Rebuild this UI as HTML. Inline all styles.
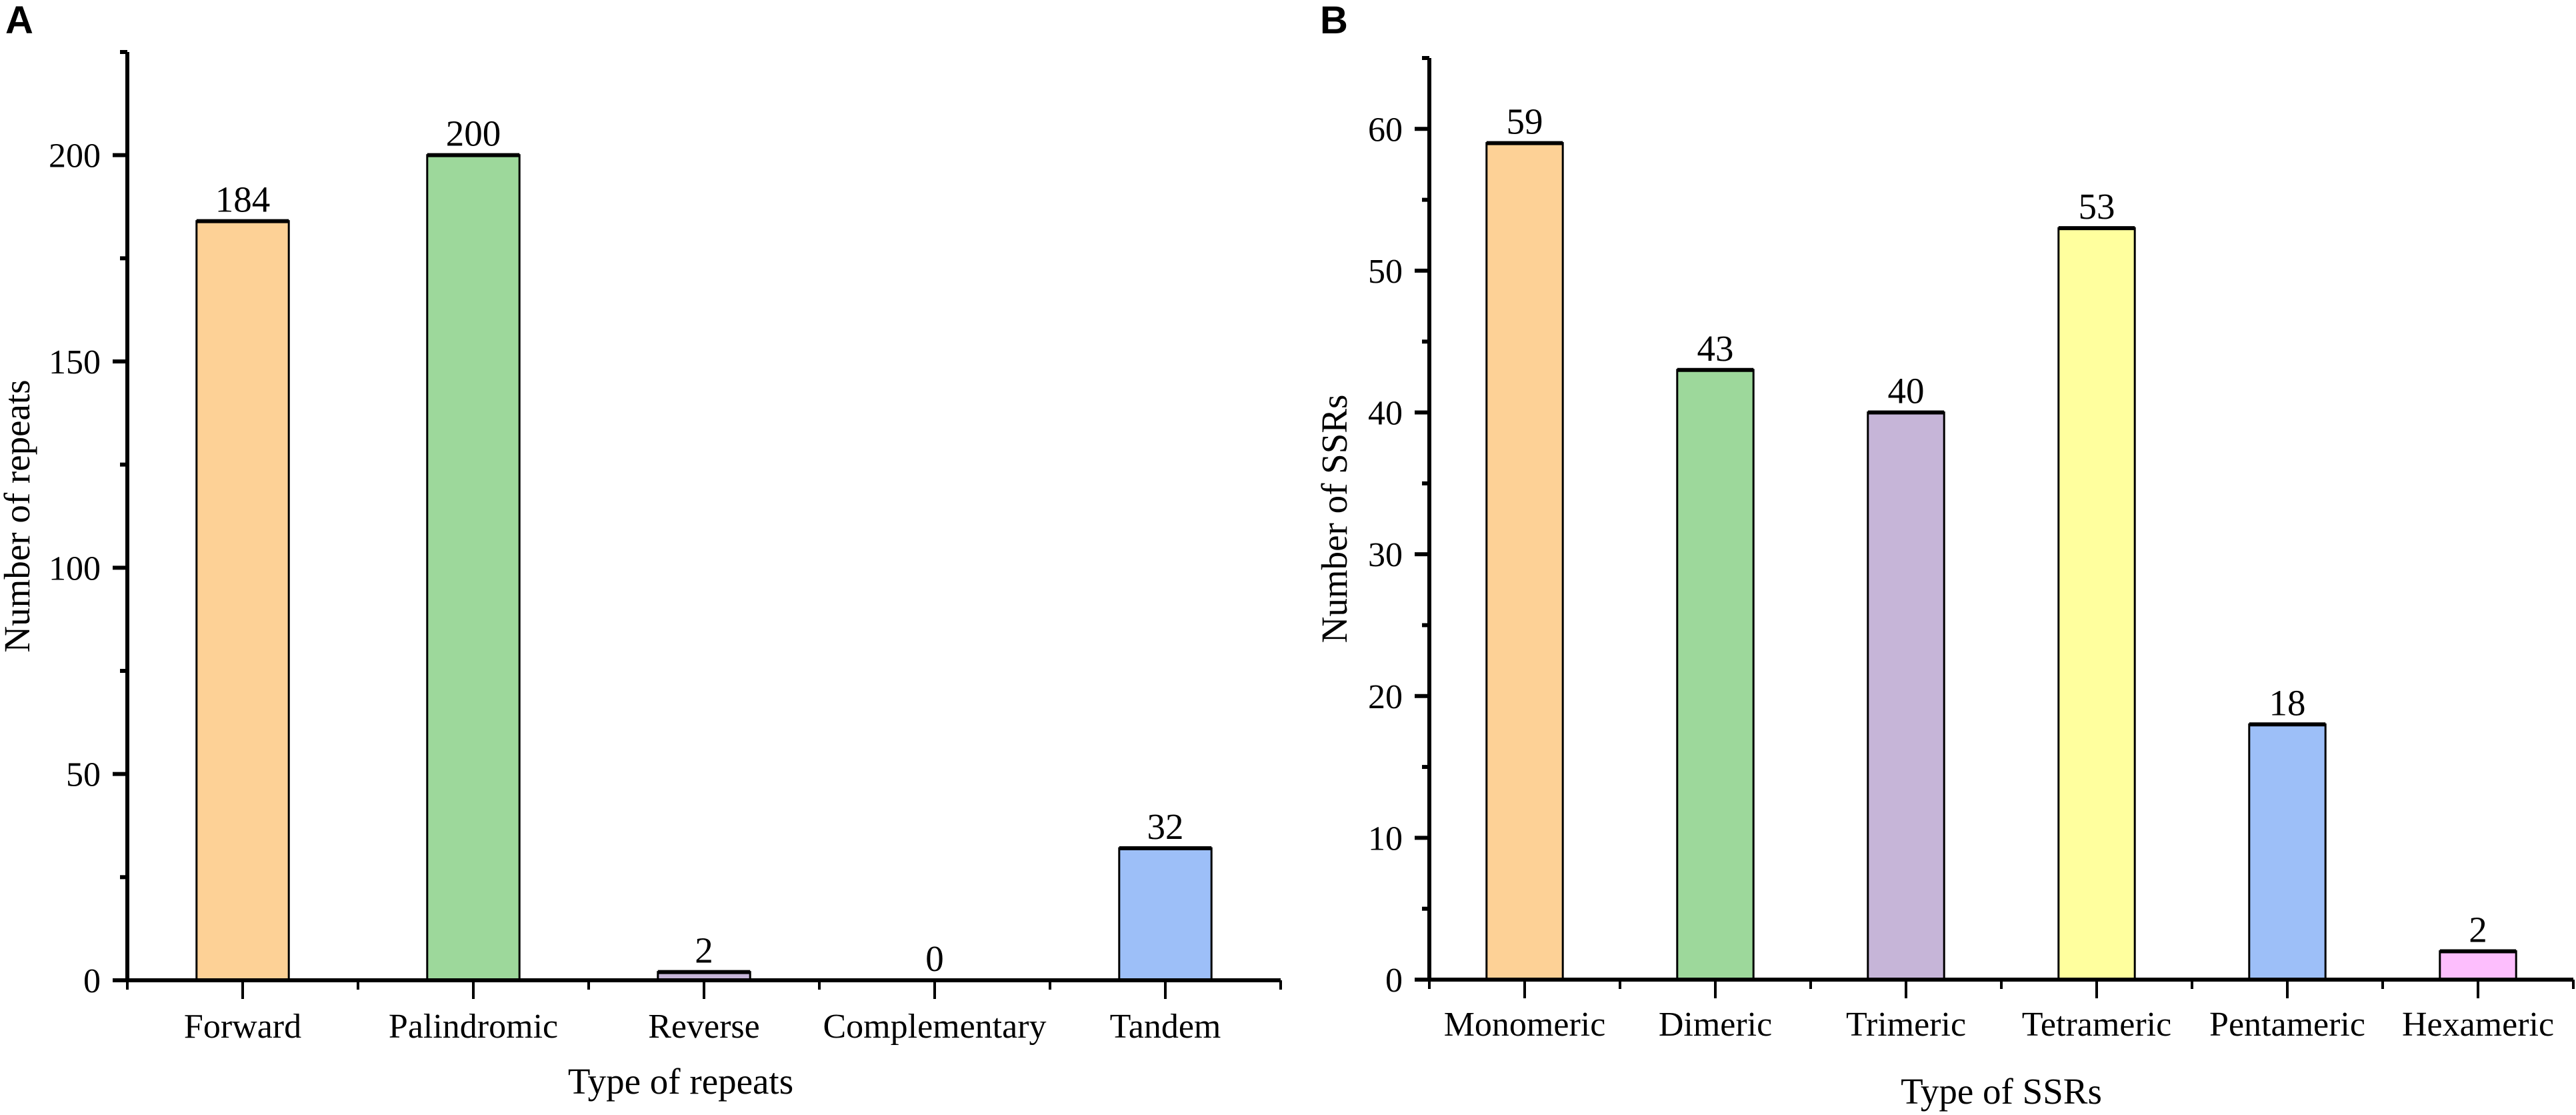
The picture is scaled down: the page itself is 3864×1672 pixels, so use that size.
<!DOCTYPE html>
<html><head><meta charset="utf-8"><style>
html,body{margin:0;padding:0;background:#fff}
svg{display:block}
text{font-family:"Liberation Serif",serif;fill:#000}
</style></head><body>
<svg id="svg" width="3864" height="1672" viewBox="0 0 3864 1672" xmlns="http://www.w3.org/2000/svg">
<text x="8" y="50" style="font-family:'Liberation Sans',sans-serif;font-weight:bold;font-size:58px">A</text>
<text x="1980" y="50" style="font-family:'Liberation Sans',sans-serif;font-weight:bold;font-size:58px">B</text>
<g id="ga"></g>
<g id="gb"></g>
</svg>
<script>
const catsA = ["Forward","Palindromic","Reverse","Complementary","Tandem"];
const valsA = [184,200,2,0,32];
const ticksA = [0,50,100,150,200];
const colorsA = ["#FDD196","#9DD89B","#C6B5D8","#FFFF9E","#9DBFF8"];
const catsB = ["Monomeric","Dimeric","Trimeric","Tetrameric","Pentameric","Hexameric"];
const valsB = [59,43,40,53,18,2];
const ticksB = [0,10,20,30,40,50,60];
const colorsB = ["#FDD196","#9DD89B","#C6B5D8","#FFFF9E","#9DBFF8","#FDBEFD"];
const NS="http://www.w3.org/2000/svg";
function mk(p,tag,attrs){const e=document.createElementNS(NS,tag);for(const k in attrs)e.setAttribute(k,attrs[k]);p.appendChild(e);return e;}
function draw(g,cfg){
  const {x0,x1,y0,yTop,ymax,cats,vals,ticks,colors,ylabel,xlabel,ylabelX,catY,titleY,titleX,prefix}=cfg;
  const n=cats.length, step=(x1-x0)/n;
  const xs=i=>x0+step*(i+0.5);
  const ys=v=>y0-(y0-yTop)*v/ymax;
  const bw=step*0.4;
  vals.forEach((v,i)=>{
    const r=mk(g,"rect",{x:xs(i)-bw/2,y:ys(v),width:bw,height:y0-ys(v),fill:colors[i],stroke:"#000","stroke-width":3});
    
    
    if(v>0){const t=mk(g,"line",{x1:xs(i)-bw/2,x2:xs(i)+bw/2,y1:ys(v),y2:ys(v),stroke:"#000","stroke-width":6});
      
      }
    const l=mk(g,"text",{x:xs(i),y:ys(v)-14,"text-anchor":"middle","font-size":"55"});
    l.textContent=v;
    
    
    const c=mk(g,"text",{x:xs(i),y:catY,"text-anchor":"middle","font-size":"52"});
    c.textContent=cats[i];
    
    
    const tk=mk(g,"line",{x1:xs(i),x2:xs(i),y1:y0,y2:y0+28,stroke:"#000","stroke-width":4});
    
    
  });
  for(let i=0;i<=n;i++){const m=mk(g,"line",{x1:x0+step*i,x2:x0+step*i,y1:y0,y2:y0+14,stroke:"#000","stroke-width":4});
    
    }
  ticks.forEach((t,i)=>{
    const y=ys(t);
    const l=mk(g,"line",{x1:x0-22,x2:x0,y1:y,y2:y,stroke:"#000","stroke-width":6});
    
    
    const tx=mk(g,"text",{x:x0-40,y:y+18,"text-anchor":"end","font-size":"52"});
    tx.textContent=t;
    
    
    if(i<ticks.length-1){const ym=ys((t+ticks[i+1])/2);
      const mm=mk(g,"line",{x1:x0-11,x2:x0,y1:ym,y2:ym,stroke:"#000","stroke-width":6});
      
      }
  });
  const top=ys(ticks[ticks.length-1]+(ticks[1]-ticks[0])/2);
  const mm=mk(g,"line",{x1:x0-11,x2:x0,y1:top,y2:top,stroke:"#000","stroke-width":6});
  
  
  const ya=mk(g,"line",{x1:x0,x2:x0,y1:yTop,y2:y0+3,stroke:"#000","stroke-width":6});
  
  
  const xa=mk(g,"line",{x1:x0-22,x2:x1,y1:y0,y2:y0,stroke:"#000","stroke-width":6});
  
  
  const yl=mk(g,"text",{x:0,y:0,"text-anchor":"middle","font-size":"55",transform:`translate(${ylabelX},${(y0+yTop)/2}) rotate(-90)`});
  yl.textContent=ylabel;
  
  
  const xl=mk(g,"text",{x:titleX,y:titleY,"text-anchor":"middle","font-size":"55"});
  xl.textContent=xlabel;
  
  
}
draw(document.getElementById('ga'),{x0:191,x1:1921,y0:1470,yTop:78,ymax:225,cats:catsA,vals:valsA,ticks:ticksA,colors:colorsA,ylabel:"Number of repeats",xlabel:"Type of repeats",ylabelX:44,catY:1556,titleY:1640,titleX:1021,prefix:"a"});
draw(document.getElementById('gb'),{x0:2144,x1:3860,y0:1469,yTop:87,ymax:65,cats:catsB,vals:valsB,ticks:ticksB,colors:colorsB,ylabel:"Number of SSRs",xlabel:"Type of SSRs",ylabelX:2020,catY:1553,titleY:1655,titleX:3002,prefix:"b"});
</script>
</body></html>
